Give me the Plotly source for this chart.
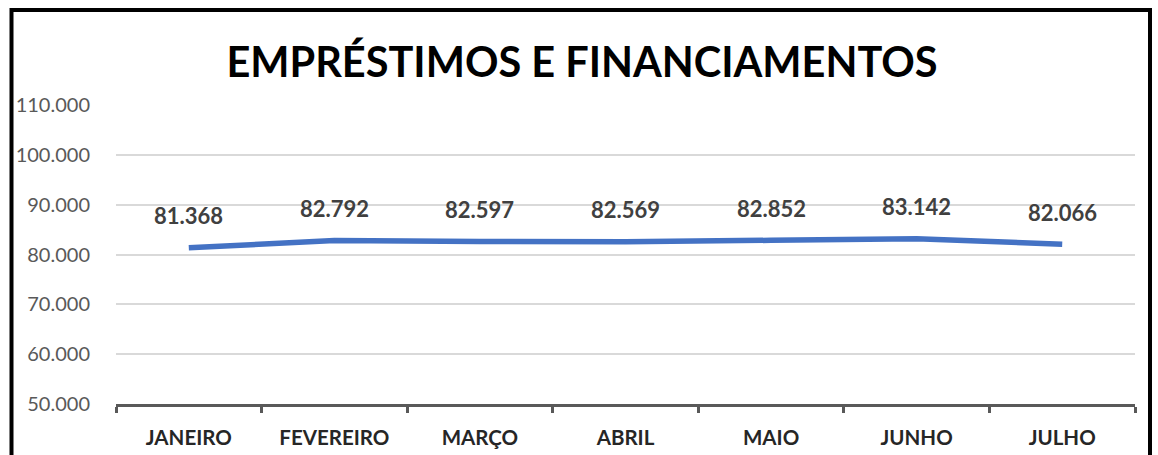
import plotly.graph_objects as go

meses = ["JANEIRO", "FEVEREIRO", "MARÇO", "ABRIL", "MAIO", "JUNHO", "JULHO"]
valores = [81368, 82792, 82597, 82569, 82852, 83142, 82066]
y_ticks = [50000, 60000, 70000, 80000, 90000, 100000, 110000]

def fmt(v):
    return f"{v:,.0f}".replace(",", ".")

W, H = 1158, 455
L, T = 116, 105
PW, PH = 1019, 299
R = W - L - PW
B = H - T - PH

def px(x):
    return (x - L) / PW

def py(y):
    return (T + PH - y) / PH

fig = go.Figure()
fig.add_trace(go.Scatter(
    x=meses, y=valores, mode="lines",
    line=dict(color="#4472C4", width=5.5),
    hoverinfo="skip", showlegend=False,
))

for m, v in zip(meses, valores):
    fig.add_annotation(
        x=m, y=v, text=fmt(v), showarrow=False, yshift=32,
        font=dict(family="Lato", size=22, color="#404040", weight="bold"),
    )

border = dict(color="black", width=4)
fig.update_layout(
    width=W, height=H,
    margin=dict(l=L, r=R, t=T, b=B, autoexpand=False),
    paper_bgcolor="white", plot_bgcolor="white",
    separators=",.",
    title=dict(
        text="<b>EMPRÉSTIMOS E FINANCIAMENTOS</b>",
        x=582 / W, xanchor="center", xref="container",
        y=1 - 62 / H, yanchor="middle", yref="container",
        font=dict(family="Lato", size=41.5, color="#000000"),
    ),
    xaxis=dict(
        range=[-0.5, 6.5],
        showgrid=False, showline=True, linecolor="#595959", linewidth=3,
        ticks="outside", tickson="boundaries", ticklen=6, tickwidth=3,
        tickcolor="#595959",
        tickfont=dict(family="Lato", size=20.5, color="#262626", weight="bold"),
        ticklabelstandoff=13,
    ),
    yaxis=dict(
        range=[50000, 110000], tickvals=y_ticks, tickformat=",d",
        showgrid=True, gridcolor="#D9D9D9", gridwidth=1.5,
        zeroline=False, showline=False,
        tickfont=dict(family="Lato", size=20, color="#595959"),
        ticklabelstandoff=25,
    ),
    shapes=[
        dict(type="line", xref="paper", yref="paper", layer="above",
             x0=px(11.5), x1=px(1150), y0=py(10), y1=py(10), line=border),
        dict(type="line", xref="paper", yref="paper", layer="above",
             x0=px(11.5), x1=px(11.5), y0=py(8), y1=py(470), line=border),
        dict(type="line", xref="paper", yref="paper", layer="above",
             x0=px(1150), x1=px(1150), y0=py(8), y1=py(470), line=border),
    ],
)

fig.write_html(
    "out.html",
    config={"displayModeBar": False},
    post_script="document.body.style.margin='0';document.body.style.overflow='hidden';",
)
